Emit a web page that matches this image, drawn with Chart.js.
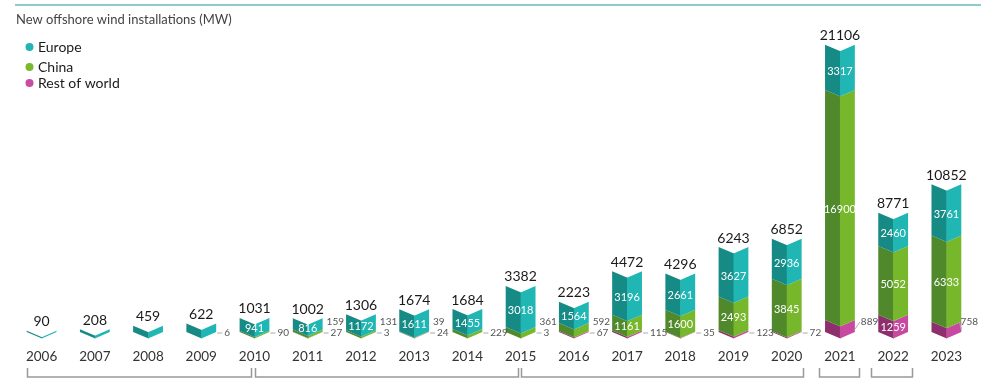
<!DOCTYPE html>
<html><head><meta charset="utf-8">
<script src="https://cdn.jsdelivr.net/npm/chart.js@4"></script>
<style>html,body{margin:0;padding:0;background:#fff}#wrap{width:981px;height:380px;position:relative}</style>
</head><body><div id="wrap"><canvas id="c" width="981" height="380"></canvas></div>
<script>
const titleText = 'New offshore wind installations (MW)';
const years = ['2006','2007','2008','2009','2010','2011','2012','2013','2014','2015','2016','2017','2018','2019','2020','2021','2022','2023'];
const europe = [90,208,459,616,941,816,1172,1611,1455,3018,1564,3196,2661,3627,2936,3317,2460,3761];
const china = [0,0,0,6,90,159,131,39,229,361,592,1161,1600,2493,3845,16900,5052,6333];
const restOfWorld = [0,0,0,0,0,27,3,24,0,3,67,115,35,123,72,889,1259,758];
const totals = [90,208,459,622,1031,1002,1306,1674,1684,3382,2223,4472,4296,6243,6852,21106,8771,10852];
const seriesNames = ['Europe','China','Rest of world'];
// brackets under the years (fractional category positions)
const brackets = [[-0.28,3.94],[4.0,8.96],[9.0,14.31],[14.6,15.36],[15.58,16.35]];

const palette = {
  'Europe': {dark:'#168a85', light:'#1fb6b3', dot:'#22b5b4', inMin:800},
  'China': {dark:'#4f892c', light:'#77b72b', dot:'#7ab82c', inMin:1000},
  'Rest of world': {dark:'#8e2f6d', light:'#c84aa0', dot:'#c94ca1', inMin:1000}
};
const FONT = 'Lato, "Open Sans", sans-serif';
const D = 6.5;

const chevronPlugin = {
  id: 'chevron',
  afterDatasetsDraw(chart) {
    const ctx = chart.ctx;
    const xs = chart.scales.x;
    const area = chart.chartArea;
    const base = area.bottom;
    const W = chart.width;
    const metas = chart.data.datasets.map((ds, i) => chart.getDatasetMeta(i));
    ctx.save();
    // bars
    metas.forEach((meta, di) => {
      const pal = palette[chart.data.datasets[di].label];
      meta.data.forEach((el, i) => {
        const v = chart.data.datasets[di].data[i];
        if (!v) return;
        const p = el.getProps(['x','y','base','width'], true);
        const L = p.x - p.width/2, R = p.x + p.width/2, C = p.x;
        const yT = p.y, yB = p.base;
        ctx.fillStyle = pal.dark;
        ctx.beginPath();
        ctx.moveTo(L, yT); ctx.lineTo(C+0.5, yT+D); ctx.lineTo(C+0.5, yB+D); ctx.lineTo(L, yB); ctx.closePath(); ctx.fill();
        ctx.fillStyle = pal.light;
        ctx.beginPath();
        ctx.moveTo(C, yT+D); ctx.lineTo(R, yT); ctx.lineTo(R, yB); ctx.lineTo(C, yB+D); ctx.closePath(); ctx.fill();
      });
    });
    // inside labels
    ctx.fillStyle = '#ffffff';
    ctx.font = '11px ' + FONT;
    ctx.textAlign = 'center';
    ctx.textBaseline = 'middle';
    metas.forEach((meta, di) => {
      const ds = chart.data.datasets[di];
      const pal = palette[ds.label];
      meta.data.forEach((el, i) => {
        const v = ds.data[i];
        if (!v || v < pal.inMin) return;
        const p = el.getProps(['x','y','base'], true);
        ctx.fillText(String(v), p.x, (p.y + p.base)/2 + D/2 + 1);
      });
    });
    // outside labels
    ctx.font = '10px ' + FONT;
    ctx.textAlign = 'left';
    ctx.strokeStyle = '#aaaaaa';
    ctx.lineWidth = 1;
    const order = [1, 0]; // China, then Rest of world (dataset indices)
    const fitX = (x, txt) => Math.min(x, W - ctx.measureText(txt).width - 3);
    years.forEach((yr, i) => {
      const items = [];
      order.forEach(di => {
        const ds = chart.data.datasets[di];
        const v = ds.data[i];
        if (v && v < palette[ds.label].inMin) items.push({v, el: metas[di].data[i]});
      });
      if (!items.length) return;
      const p0 = items[0].el.getProps(['x','y','base','width'], true);
      const R = p0.x + p0.width/2;
      const drawLower = (it) => {
        ctx.beginPath(); ctx.moveTo(R+1, base+1); ctx.lineTo(R+6, base+1); ctx.stroke();
        ctx.fillStyle = '#555'; ctx.fillText(String(it.v), R+8, base+1);
      };
      if (items.length === 2) {
        ctx.fillStyle = '#555'; ctx.fillText(String(items[0].v), R+4, base-10);
        drawLower(items[1]);
      } else {
        const it = items[0];
        const p = it.el.getProps(['y','base'], true);
        if (p.base - p.y > 6) {
          const mid = (p.y + p.base)/2 + D/2;
          const tx = fitX(R+6, String(it.v));
          ctx.beginPath(); ctx.moveTo(R, mid); ctx.lineTo(tx-1, base-10); ctx.stroke();
          ctx.fillStyle = '#555'; ctx.fillText(String(it.v), tx, base-10);
        } else {
          drawLower(it);
        }
      }
    });
    // totals
    ctx.fillStyle = '#1a1a1a';
    ctx.font = '14px ' + FONT;
    ctx.textAlign = 'center';
    const topMeta = metas[metas.length-1];
    totals.forEach((t, i) => {
      const p = topMeta.data[i].getProps(['x','y'], true);
      ctx.fillText(String(t), p.x, p.y - 9);
    });
    // years
    ctx.fillStyle = '#333';
    ctx.font = '13.5px ' + FONT;
    years.forEach((yr, i) => {
      ctx.fillText(yr, xs.getPixelForValue(i), 357);
    });
    // brackets
    ctx.strokeStyle = '#999';
    ctx.lineWidth = 1.5;
    brackets.forEach(([a, b]) => {
      const x1 = Math.round(xs.getPixelForValue(a)) + 0.5, x2 = Math.round(xs.getPixelForValue(b)) + 0.5;
      ctx.beginPath(); ctx.moveTo(x1, 368); ctx.lineTo(x1, 377); ctx.lineTo(x2, 377); ctx.lineTo(x2, 368); ctx.stroke();
    });
    // top rule, title, legend
    ctx.strokeStyle = '#8fc9cf';
    ctx.lineWidth = 2;
    ctx.beginPath(); ctx.moveTo(15, 5); ctx.lineTo(981, 5); ctx.stroke();
    ctx.fillStyle = '#444';
    ctx.font = '13px ' + FONT;
    ctx.textAlign = 'left';
    ctx.fillText(titleText, 16, 20);
    const ly = [47, 67, 83];
    seriesNames.forEach((n, k) => {
      ctx.fillStyle = palette[n].dot;
      ctx.beginPath(); ctx.arc(29.5, ly[k], 4, 0, Math.PI*2); ctx.fill();
      ctx.fillStyle = '#1a1a1a';
      ctx.font = '14px ' + FONT;
      ctx.fillText(n, 38, ly[k]);
    });
    ctx.restore();
  }
};

new Chart(document.getElementById('c'), {
  type: 'bar',
  data: {
    labels: years,
    datasets: [
      {label: 'Rest of world', data: restOfWorld},
      {label: 'China', data: china},
      {label: 'Europe', data: europe}
    ].map(d => Object.assign(d, {backgroundColor: 'rgba(0,0,0,0)', borderWidth: 0, categoryPercentage: 1, barPercentage: 0.56}))
  },
  options: {
    responsive: false,
    animation: false,
    events: [],
    layout: {padding: {left: 15, right: 8, top: 19, bottom: 48}},
    plugins: {legend: {display: false}, tooltip: {enabled: false}},
    scales: {
      x: {display: false, stacked: true, offset: true},
      y: {display: false, stacked: true, min: 0, max: 23000}
    }
  },
  plugins: [chevronPlugin]
});
</script>
</body></html>
